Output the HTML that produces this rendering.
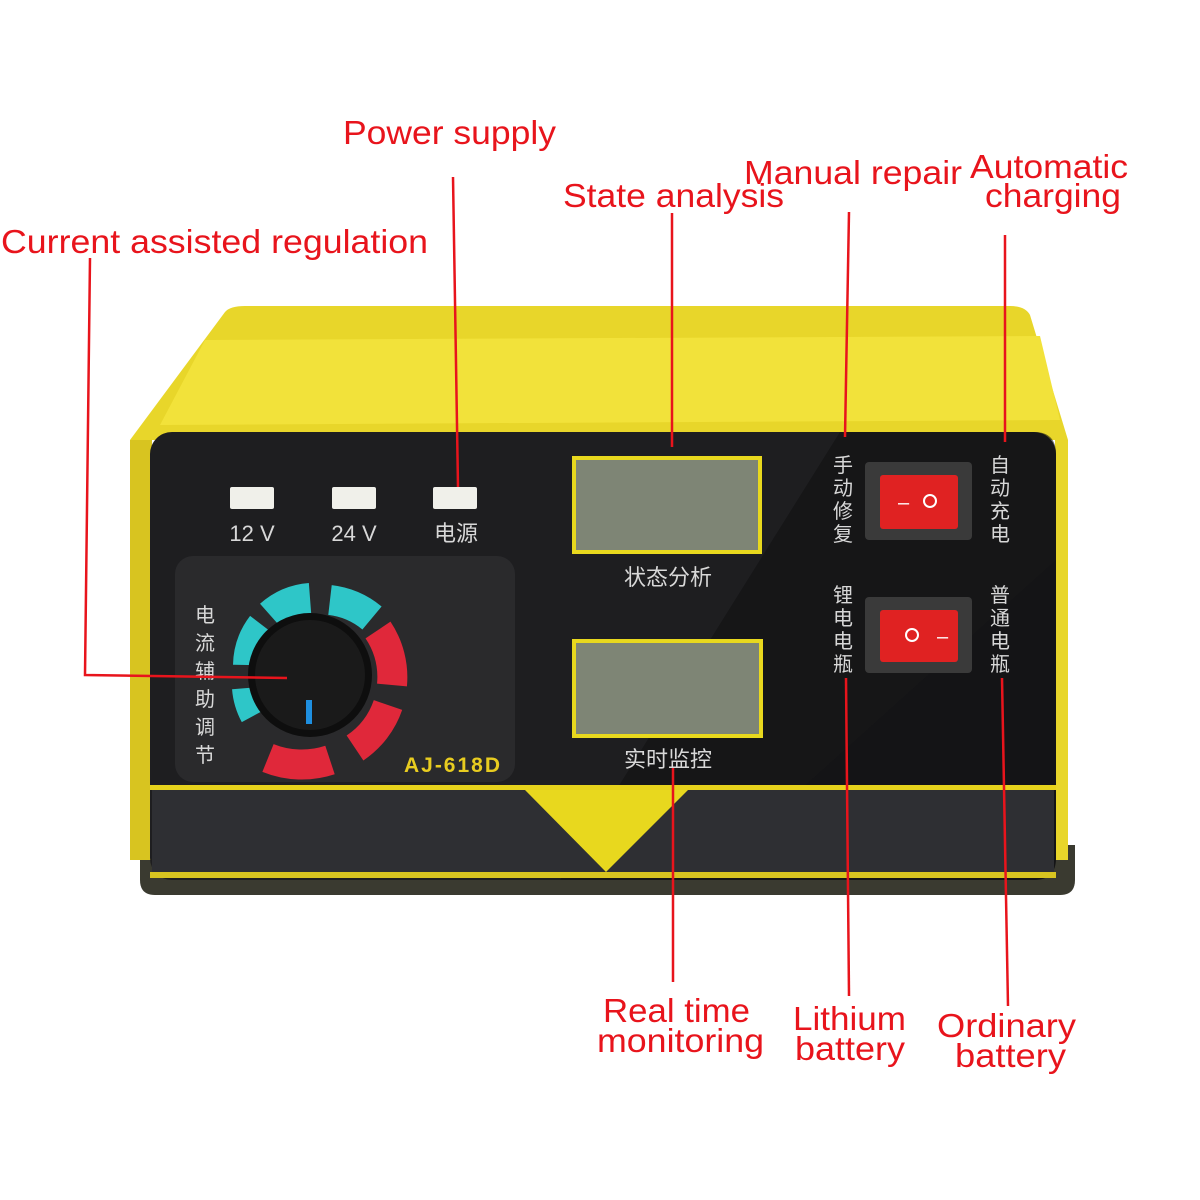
<!DOCTYPE html>
<html><head><meta charset="utf-8"><style>
html,body{margin:0;padding:0;background:#fff;}
svg{display:block}
.r{fill:#e8141c;font-family:"Liberation Sans",sans-serif;font-size:33px}
.c{font-family:"Liberation Sans","Noto Sans CJK SC",sans-serif;fill:#d8d8d8}
</style></head><body>
<svg width="1200" height="1200" viewBox="0 0 1200 1200" xmlns="http://www.w3.org/2000/svg">
<rect width="1200" height="1200" fill="#fff"/>
<path d="M140 845 L1075 845 L1075 880 Q1075 895 1060 895 L155 895 Q140 895 140 880 Z" fill="#3a3a30"/>
<path d="M225 312 Q230 306 245 306 L1010 306 Q1025 306 1030 315 L1068 440 L1068 860 L1055 860 L1055 440 L150 440 L150 860 L130 860 L130 440 Z" fill="#e8d62a"/>
<path d="M205 340 L1040 336 L1060 420 L160 425 Z" fill="#f2e23a"/>
<rect x="130" y="440" width="22" height="420" fill="#d8c420"/>
<rect x="150" y="432" width="906" height="448" rx="22" fill="#1e1e20"/>
<path d="M700 880 L1056 560 L1056 858 Q1056 880 1034 880 Z" fill="#141416"/>
<path d="M840 432 L1034 432 Q1056 432 1056 454 L1056 560 L700 880 L560 880 Z" fill="#111113" opacity="0.6"/>
<rect x="150" y="785" width="906" height="5" fill="#e6d21c"/>
<rect x="152" y="790" width="902" height="82" fill="#2e2f33"/>
<rect x="150" y="872" width="906" height="6" fill="#d8c420"/>
<path d="M525 790 L688 790 L606 872 Z" fill="#e8d81e"/>
<rect x="230" y="487" width="44" height="22" rx="2" fill="#f0f0ea"/>
<rect x="332" y="487" width="44" height="22" rx="2" fill="#f0f0ea"/>
<rect x="433" y="487" width="44" height="22" rx="2" fill="#f0f0ea"/>
<text class="c" x="252" y="541" font-size="22" text-anchor="middle">12 V</text>
<text class="c" x="354" y="541" font-size="22" text-anchor="middle">24 V</text>
<text class="c" x="456" y="541" font-size="22" text-anchor="middle">电源</text>
<rect x="175" y="556" width="340" height="226" rx="18" fill="#2a2a2c"/>
<g fill="none" stroke-width="30">
<path d="M248 665 A68 68 0 0 1 262 625" stroke="#2ec6c8"/>
<path d="M270 615 A68 68 0 0 1 310 598" stroke="#2ec6c8"/>
<path d="M330 600 A80 80 0 0 1 372 618" stroke="#2ec6c8"/>
<path d="M378 630 A85 85 0 0 1 392 685" stroke="#e0283a"/>
<path d="M388 705 A85 85 0 0 1 355 748" stroke="#e0283a"/>
<path d="M330 760 A90 90 0 0 1 268 758" stroke="#e0283a"/>
<path d="M247 688 A68 68 0 0 0 255 715" stroke="#2ec6c8"/>
</g>
<circle cx="310" cy="675" r="62" fill="#0e0e0e"/>
<circle cx="310" cy="675" r="55" fill="#1a1a1a"/>
<rect x="306" y="700" width="6" height="24" fill="#1e8fe0"/>
<text class="c" font-size="20" x="205" y="622" text-anchor="middle">电</text>
<text class="c" font-size="20" x="205" y="650" text-anchor="middle">流</text>
<text class="c" font-size="20" x="205" y="678" text-anchor="middle">辅</text>
<text class="c" font-size="20" x="205" y="706" text-anchor="middle">助</text>
<text class="c" font-size="20" x="205" y="734" text-anchor="middle">调</text>
<text class="c" font-size="20" x="205" y="762" text-anchor="middle">节</text>
<text x="453" y="772" font-family="Liberation Sans,sans-serif" font-weight="bold" font-size="21" fill="#e8cc20" text-anchor="middle" letter-spacing="2">AJ-618D</text>
<rect x="574" y="458" width="186" height="94" fill="#7e8575" stroke="#e8d81e" stroke-width="4"/>
<rect x="574" y="641" width="187" height="95" fill="#7e8575" stroke="#e8d81e" stroke-width="4"/>
<text class="c" x="668" y="585" font-size="22" text-anchor="middle">状态分析</text>
<text class="c" x="668" y="767" font-size="22" text-anchor="middle">实时监控</text>
<rect x="865" y="462" width="107" height="78" rx="4" fill="#3a3a3a"/>
<rect x="880" y="475" width="78" height="54" rx="3" fill="#e02222"/>
<text x="898" y="509" fill="#fff" font-size="20" font-family="Liberation Sans,sans-serif">–</text>
<circle cx="930" cy="501" r="6" fill="none" stroke="#fff" stroke-width="2"/>
<rect x="865" y="597" width="107" height="76" rx="4" fill="#3a3a3a"/>
<rect x="880" y="610" width="78" height="52" rx="3" fill="#e02222"/>
<circle cx="912" cy="635" r="6" fill="none" stroke="#fff" stroke-width="2"/>
<text x="937" y="643" fill="#fff" font-size="20" font-family="Liberation Sans,sans-serif">–</text>
<g font-size="20" text-anchor="middle" class="c">
<text class="c" x="843" y="472">手</text><text class="c" x="843" y="495">动</text><text class="c" x="843" y="518">修</text><text class="c" x="843" y="541">复</text>
<text class="c" x="1000" y="472">自</text><text class="c" x="1000" y="495">动</text><text class="c" x="1000" y="518">充</text><text class="c" x="1000" y="541">电</text>
<text class="c" x="843" y="602">锂</text><text class="c" x="843" y="625">电</text><text class="c" x="843" y="648">电</text><text class="c" x="843" y="671">瓶</text>
<text class="c" x="1000" y="602">普</text><text class="c" x="1000" y="625">通</text><text class="c" x="1000" y="648">电</text><text class="c" x="1000" y="671">瓶</text>
</g>
<g stroke="#e8141c" stroke-width="2.5" fill="none">
<path d="M90 258 L85 675 L287 678"/>
<path d="M453 177 L458 487"/>
<path d="M672 213 L672 447"/>
<path d="M849 212 L845 437"/>
<path d="M1005 235 L1005 442"/>
<path d="M673 768 L673 982"/>
<path d="M846 678 L849 996"/>
<path d="M1002 678 L1008 1006"/>
</g>
<text class="r" x="1" y="253" textLength="427" lengthAdjust="spacingAndGlyphs">Current assisted regulation</text>
<text class="r" x="343" y="144" textLength="213" lengthAdjust="spacingAndGlyphs">Power supply</text>
<text class="r" x="563" y="207" textLength="221" lengthAdjust="spacingAndGlyphs">State analysis</text>
<text class="r" x="744" y="184" textLength="218" lengthAdjust="spacingAndGlyphs">Manual repair</text>
<text class="r" x="970" y="178" textLength="158" lengthAdjust="spacingAndGlyphs">Automatic</text>
<text class="r" x="985" y="207" textLength="136" lengthAdjust="spacingAndGlyphs">charging</text>
<text class="r" x="603" y="1022" textLength="147" lengthAdjust="spacingAndGlyphs">Real time</text>
<text class="r" x="597" y="1052" textLength="167" lengthAdjust="spacingAndGlyphs">monitoring</text>
<text class="r" x="793" y="1030" textLength="113" lengthAdjust="spacingAndGlyphs">Lithium</text>
<text class="r" x="795" y="1060" textLength="110" lengthAdjust="spacingAndGlyphs">battery</text>
<text class="r" x="937" y="1037" textLength="139" lengthAdjust="spacingAndGlyphs">Ordinary</text>
<text class="r" x="955" y="1067" textLength="111" lengthAdjust="spacingAndGlyphs">battery</text>
</svg>
</body></html>
